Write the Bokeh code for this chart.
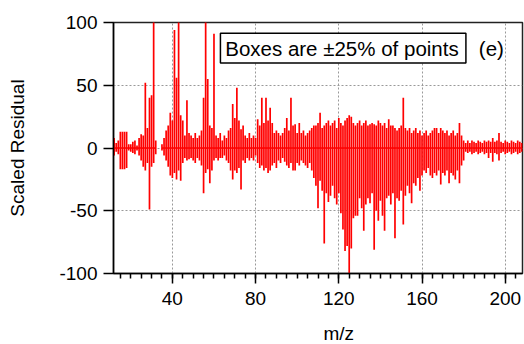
from bokeh.plotting import figure
from bokeh.models import FixedTicker, Range1d, Label, BoxAnnotation, ColumnDataSource
from bokeh.embed import file_html
from bokeh.resources import INLINE
import numpy as np

# integer m/z 12..208
mz = list(range(12, 209))

pos = [
    8, 4, 6, 13, 13, 13, 13, 3, 3, 5,          # 12-21
    6, 2, 8, 11, 10, 52, 16, 40, 42, 105,      # 22-31
    6, 0, 0, 3, 8, 14, 18, 28, 22, 94,         # 32-41
    56, 105, 26, 22, 10, 38, 12, 10, 8, 12,    # 42-51
    8, 10, 14, 40, 105, 55, 18, 16, 91, 10,    # 52-61
    8, 12, 6, 10, 8, 14, 16, 35, 24, 48,       # 62-71
    22, 15, 18, 10, 8, 12, 8, 10, 8, 23,       # 72-81
    18, 40, 20, 40, 22, 32, 20, 12, 14, 12,    # 82-91
    10, 12, 16, 24, 14, 40, 18, 19, 12, 20,    # 92-101
    12, 14, 10, 12, 14, 16, 18, 18, 20, 28,    # 102-111
    16, 18, 20, 22, 18, 20, 22, 16, 24, 20,    # 112-121
    18, 22, 24, 26, 25, 20, 18, 20, 22, 18,    # 122-131
    20, 22, 18, 19, 20, 19, 18, 22, 20, 18,    # 132-141
    20, 16, 23, 18, 18, 16, 14, 16, 18, 40,    # 142-151
    16, 14, 16, 12, 14, 16, 12, 14, 10, 12,    # 152-161
    14, 10, 12, 14, 16, 16, 12, 16, 14, 12,    # 162-171
    14, 10, 12, 14, 10, 12, 20, 10, 6, 4,      # 172-181
    6, 4, 6, 5, 4, 6, 5, 4, 6, 5,              # 182-191
    6, 5, 8, 5, 6, 12, 5, 4, 6, 5,             # 192-201
    4, 6, 5, 4, 6, 5, 4,                       # 202-208
]

neg = [
    -6, -3, -5, -17, -17, -17, -16, -2, -3, -4,        # 12-21
    -5, -2, -6, -10, -15, -18, -12, -49, -15, -12,     # 22-31
    -5, 0, 0, -2, -6, -10, -15, -22, -24, -20,         # 32-41
    -25, -18, -26, -12, -8, -10, -9, -8, -10, -12,     # 42-51
    -8, -10, -14, -36, -20, -17, -28, -18, -10, -8,    # 52-61
    -10, -8, -8, -6, -10, -12, -18, -25, -18, -20,     # 62-71
    -16, -33, -10, -12, -8, -10, -8, -10, -6, -12,     # 72-81
    -16, -14, -18, -16, -20, -18, -14, -12, -16, -10,  # 82-91
    -12, -8, -11, -14, -16, -12, -18, -18, -12, -14,   # 92-101
    -10, -12, -14, -16, -12, -18, -24, -30, -48, -26,  # 102-111
    -34, -76, -36, -43, -38, -30, -40, -45, -36, -52,  # 112-121
    -65, -82, -78, -102, -80, -56, -54, -54, -40, -48, # 122-131
    -66, -45, -40, -44, -36, -81, -50, -58, -42, -54,  # 132-141
    -66, -40, -38, -45, -36, -72, -40, -42, -34, -61,  # 142-151
    -38, -30, -36, -44, -28, -30, -24, -34, -22, -18,  # 152-161
    -20, -16, -22, -24, -20, -22, -18, -29, -20, -22,  # 162-171
    -18, -28, -20, -22, -25, -18, -28, -14, -10, -3,   # 172-181
    -4, -3, -5, -4, -3, -5, -4, -3, -5, -4,            # 182-191
    -8, -4, -11, -4, -5, -10, -4, -3, -5, -4,          # 192-201
    -3, -5, -4, -3, -5, -4, -3,                        # 202-208
]

x_ticks = [40, 80, 120, 160, 200]
x_minor = list(range(15, 210, 5))
y_ticks = [-100, -50, 0, 50, 100]
y_tick_labels = ["-100", "-50", "0", "50", "100"]

FONT = "Liberation Sans"

base = [np.nan if (a == 0 and b == 0) else 0.0 for a, b in zip(pos, neg)]
src = ColumnDataSource(dict(mz=mz, pos=pos, neg=neg, base=base))

p = figure(width=524, height=344, output_backend="svg", toolbar_location=None,
           x_range=Range1d(11.7, 208.3), y_range=Range1d(-100, 100),
           min_border_left=113, min_border_right=2, min_border_top=22,
           min_border_bottom=71, background_fill_color="white",
           border_fill_color="white")

p.outline_line_color = "#222222"
p.outline_line_width = 1.5

p.line("mz", "base", source=src, line_color="red", line_width=1.5)
p.segment(x0="mz", y0="neg", x1="mz", y1="pos", source=src,
          line_color="red", line_width=1.7)

# axes
p.xaxis.ticker = FixedTicker(ticks=x_ticks, minor_ticks=x_minor)
p.yaxis.ticker = FixedTicker(ticks=y_ticks, minor_ticks=[])
p.yaxis.major_label_overrides = {t: s for t, s in zip(y_ticks, y_tick_labels)}
for ax in (p.xaxis[0], p.yaxis[0]):
    ax.axis_line_color = "black"
    ax.axis_line_width = 1.5
    ax.major_tick_line_color = "black"
    ax.major_tick_line_width = 1.5
    ax.minor_tick_line_color = "black"
    ax.minor_tick_line_width = 1.5
    ax.major_tick_in = 0
    ax.minor_tick_in = 0
    ax.major_tick_out = 10
    ax.minor_tick_out = 5
    ax.major_label_text_font = FONT
    ax.major_label_text_font_size = "19px"
    ax.major_label_text_color = "black"
    ax.axis_label_text_font = FONT
    ax.axis_label_text_font_size = "19px"
    ax.axis_label_text_font_style = "normal"
    ax.axis_label_text_color = "black"

p.yaxis.axis_label = "Scaled Residual"
p.xaxis.major_label_standoff = 8
p.yaxis.major_label_standoff = 6
p.yaxis.axis_label_standoff = 28

# x-axis title in the panel below the axis
p.add_layout(Label(x=120, y=-5, y_units="screen", text="m/z", text_font=FONT,
                   text_font_size="19px", text_align="center",
                   text_baseline="middle", text_color="black"), "below")

# grid
p.xgrid.ticker = FixedTicker(ticks=x_ticks)
p.ygrid.ticker = FixedTicker(ticks=y_ticks)
for g in (p.xgrid[0], p.ygrid[0]):
    g.grid_line_color = "#999999"
    g.grid_line_dash = "2 2"
    g.grid_line_width = 1

# annotation box
box = BoxAnnotation(left=63.1, right=181.1, bottom=67.8, top=91.4,
                    fill_color="white", fill_alpha=1.0,
                    line_color="black", line_width=1.5, line_alpha=1.0)
p.add_layout(box)
p.add_layout(Label(x=65.4, y=79.6, text="Boxes are ±25% of points",
                   text_font=FONT, text_font_size="20.5px",
                   text_baseline="middle", text_color="black"))
p.add_layout(Label(x=187.3, y=79.6, text="(e)",
                   text_font=FONT, text_font_size="20.5px",
                   text_baseline="middle", text_color="black"))

open("out.html", "w").write(file_html(p, INLINE))
